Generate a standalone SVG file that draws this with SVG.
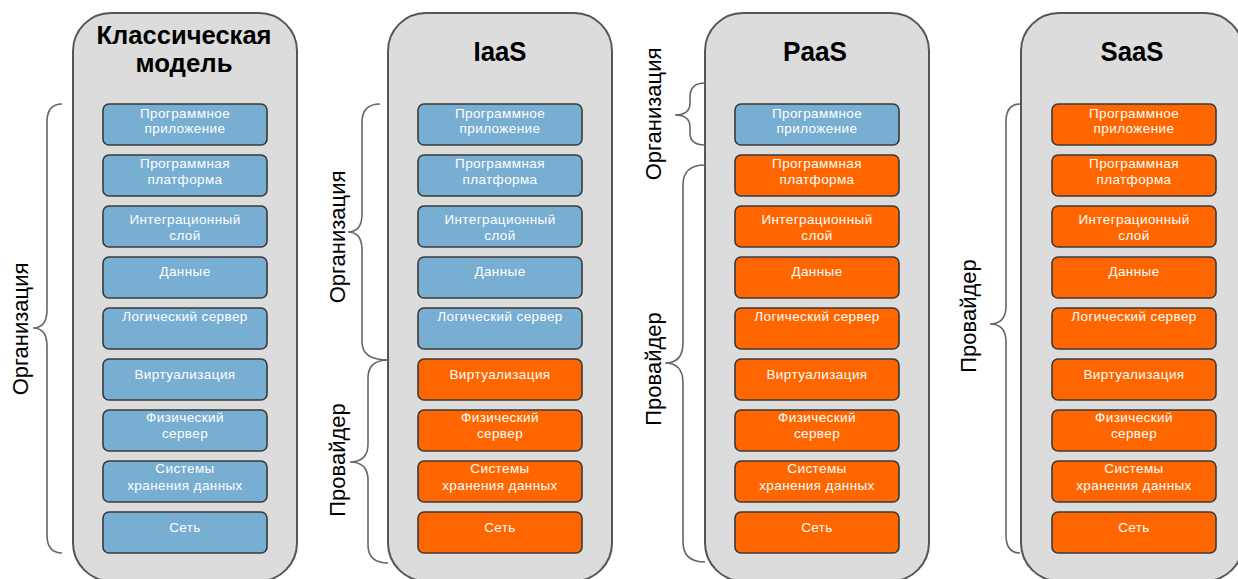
<svg xmlns="http://www.w3.org/2000/svg" width="1238" height="579" viewBox="0 0 1238 579">
<style>
.cont{fill:#dcdcdc;stroke:#555;stroke-width:2}
.blue{fill:#78aed2;stroke:#3a3a3a;stroke-width:1.6}
.orange{fill:#ff6600;stroke:#3a3a3a;stroke-width:1.6}
.bt{font-family:"Liberation Sans",Arial,sans-serif;font-size:13.5px;fill:#fff;text-anchor:middle;letter-spacing:0.4px}
.title{font-family:"Liberation Sans",Arial,sans-serif;font-size:28px;font-weight:bold;fill:#000;text-anchor:middle}
.title2{font-family:"Liberation Sans",Arial,sans-serif;font-size:25px;font-weight:bold;fill:#000;text-anchor:middle}
.lbl{font-family:"Liberation Sans",Arial,sans-serif;font-size:22px;fill:#000;text-anchor:middle}
.brace{fill:none;stroke:#666;stroke-width:1.6}
</style>
<rect width="1238" height="579" fill="#fff"/>

<!-- Column 1: Classic model -->
<g id="col-classic">
<rect class="cont" x="73" y="13" width="224" height="568" rx="38"/>
<text class="title2" x="184" y="44" textLength="175" lengthAdjust="spacingAndGlyphs">Классическая</text>
<text class="title2" x="184" y="72" textLength="97" lengthAdjust="spacingAndGlyphs">модель</text>
<g id="c1-b1"><rect class="blue" x="103" y="104" width="164" height="41" rx="6"/><text class="bt" x="185" y="118">Программное</text><text class="bt" x="185" y="133">приложение</text></g>
<g id="c1-b2"><rect class="blue" x="103" y="155" width="164" height="41" rx="6"/><text class="bt" x="185" y="168">Программная</text><text class="bt" x="185" y="184">платформа</text></g>
<g id="c1-b3"><rect class="blue" x="103" y="206" width="164" height="41" rx="6"/><text class="bt" x="185" y="224">Интеграционный</text><text class="bt" x="185" y="240">слой</text></g>
<g id="c1-b4"><rect class="blue" x="103" y="257" width="164" height="41" rx="6"/><text class="bt" x="185" y="276">Данные</text></g>
<g id="c1-b5"><rect class="blue" x="103" y="308" width="164" height="41" rx="6"/><text class="bt" x="185" y="321">Логический сервер</text></g>
<g id="c1-b6"><rect class="blue" x="103" y="359" width="164" height="41" rx="6"/><text class="bt" x="185" y="379">Виртуализация</text></g>
<g id="c1-b7"><rect class="blue" x="103" y="410" width="164" height="41" rx="6"/><text class="bt" x="185" y="422">Физический</text><text class="bt" x="185" y="438">сервер</text></g>
<g id="c1-b8"><rect class="blue" x="103" y="461" width="164" height="41" rx="6"/><text class="bt" x="185" y="473">Системы</text><text class="bt" x="185" y="490">хранения данных</text></g>
<g id="c1-b9"><rect class="blue" x="103" y="512" width="164" height="41" rx="6"/><text class="bt" x="185" y="532">Сеть</text></g>
</g>

<!-- Column 2: IaaS -->
<g id="col-iaas">
<rect class="cont" x="388" y="13" width="224" height="568" rx="38"/>
<text class="title" x="500" y="61" textLength="53" lengthAdjust="spacingAndGlyphs">IaaS</text>
<g id="c2-b1"><rect class="blue" x="418" y="104" width="164" height="41" rx="6"/><text class="bt" x="500" y="118">Программное</text><text class="bt" x="500" y="133">приложение</text></g>
<g id="c2-b2"><rect class="blue" x="418" y="155" width="164" height="41" rx="6"/><text class="bt" x="500" y="168">Программная</text><text class="bt" x="500" y="184">платформа</text></g>
<g id="c2-b3"><rect class="blue" x="418" y="206" width="164" height="41" rx="6"/><text class="bt" x="500" y="224">Интеграционный</text><text class="bt" x="500" y="240">слой</text></g>
<g id="c2-b4"><rect class="blue" x="418" y="257" width="164" height="41" rx="6"/><text class="bt" x="500" y="276">Данные</text></g>
<g id="c2-b5"><rect class="blue" x="418" y="308" width="164" height="41" rx="6"/><text class="bt" x="500" y="321">Логический сервер</text></g>
<g id="c2-b6"><rect class="orange" x="418" y="359" width="164" height="41" rx="6"/><text class="bt" x="500" y="379">Виртуализация</text></g>
<g id="c2-b7"><rect class="orange" x="418" y="410" width="164" height="41" rx="6"/><text class="bt" x="500" y="422">Физический</text><text class="bt" x="500" y="438">сервер</text></g>
<g id="c2-b8"><rect class="orange" x="418" y="461" width="164" height="41" rx="6"/><text class="bt" x="500" y="473">Системы</text><text class="bt" x="500" y="490">хранения данных</text></g>
<g id="c2-b9"><rect class="orange" x="418" y="512" width="164" height="41" rx="6"/><text class="bt" x="500" y="532">Сеть</text></g>
</g>

<!-- Column 3: PaaS -->
<g id="col-paas">
<rect class="cont" x="705" y="13" width="224" height="568" rx="38"/>
<text class="title" x="815" y="61" textLength="64" lengthAdjust="spacingAndGlyphs">PaaS</text>
<g id="c3-b1"><rect class="blue" x="735" y="104" width="164" height="41" rx="6"/><text class="bt" x="817" y="118">Программное</text><text class="bt" x="817" y="133">приложение</text></g>
<g id="c3-b2"><rect class="orange" x="735" y="155" width="164" height="41" rx="6"/><text class="bt" x="817" y="168">Программная</text><text class="bt" x="817" y="184">платформа</text></g>
<g id="c3-b3"><rect class="orange" x="735" y="206" width="164" height="41" rx="6"/><text class="bt" x="817" y="224">Интеграционный</text><text class="bt" x="817" y="240">слой</text></g>
<g id="c3-b4"><rect class="orange" x="735" y="257" width="164" height="41" rx="6"/><text class="bt" x="817" y="276">Данные</text></g>
<g id="c3-b5"><rect class="orange" x="735" y="308" width="164" height="41" rx="6"/><text class="bt" x="817" y="321">Логический сервер</text></g>
<g id="c3-b6"><rect class="orange" x="735" y="359" width="164" height="41" rx="6"/><text class="bt" x="817" y="379">Виртуализация</text></g>
<g id="c3-b7"><rect class="orange" x="735" y="410" width="164" height="41" rx="6"/><text class="bt" x="817" y="422">Физический</text><text class="bt" x="817" y="438">сервер</text></g>
<g id="c3-b8"><rect class="orange" x="735" y="461" width="164" height="41" rx="6"/><text class="bt" x="817" y="473">Системы</text><text class="bt" x="817" y="490">хранения данных</text></g>
<g id="c3-b9"><rect class="orange" x="735" y="512" width="164" height="41" rx="6"/><text class="bt" x="817" y="532">Сеть</text></g>
</g>

<!-- Column 4: SaaS -->
<g id="col-saas">
<rect class="cont" x="1021" y="13" width="222" height="568" rx="38"/>
<text class="title" x="1132" y="61" textLength="63" lengthAdjust="spacingAndGlyphs">SaaS</text>
<g id="c4-b1"><rect class="orange" x="1052" y="104" width="164" height="41" rx="6"/><text class="bt" x="1134" y="118">Программное</text><text class="bt" x="1134" y="133">приложение</text></g>
<g id="c4-b2"><rect class="orange" x="1052" y="155" width="164" height="41" rx="6"/><text class="bt" x="1134" y="168">Программная</text><text class="bt" x="1134" y="184">платформа</text></g>
<g id="c4-b3"><rect class="orange" x="1052" y="206" width="164" height="41" rx="6"/><text class="bt" x="1134" y="224">Интеграционный</text><text class="bt" x="1134" y="240">слой</text></g>
<g id="c4-b4"><rect class="orange" x="1052" y="257" width="164" height="41" rx="6"/><text class="bt" x="1134" y="276">Данные</text></g>
<g id="c4-b5"><rect class="orange" x="1052" y="308" width="164" height="41" rx="6"/><text class="bt" x="1134" y="321">Логический сервер</text></g>
<g id="c4-b6"><rect class="orange" x="1052" y="359" width="164" height="41" rx="6"/><text class="bt" x="1134" y="379">Виртуализация</text></g>
<g id="c4-b7"><rect class="orange" x="1052" y="410" width="164" height="41" rx="6"/><text class="bt" x="1134" y="422">Физический</text><text class="bt" x="1134" y="438">сервер</text></g>
<g id="c4-b8"><rect class="orange" x="1052" y="461" width="164" height="41" rx="6"/><text class="bt" x="1134" y="473">Системы</text><text class="bt" x="1134" y="490">хранения данных</text></g>
<g id="c4-b9"><rect class="orange" x="1052" y="512" width="164" height="41" rx="6"/><text class="bt" x="1134" y="532">Сеть</text></g>
</g>

<!-- Braces -->
<g id="connectors">
<path class="brace" d="M62,104 Q47,104 47,122 L47,310 Q47,328 33,328 Q47,328 47,346 L47,535 Q47,553 62,553"/>
<path class="brace" d="M380,104 Q362,104 362,122 L362,214 Q362,232 348,232 Q362,232 362,250 L362,342 Q362,360 388,360"/>
<path class="brace" d="M388,360 Q368,360 368,378 L368,444 Q368,462 350,462 Q368,462 368,480 L368,545 Q368,563 388,563"/>
<path class="brace" d="M705,83 Q690,83 690,97 L690,103 Q690,115 675,115 Q690,115 690,127 L690,133 Q690,145 705,145"/>
<path class="brace" d="M705,165 Q683,165 683,185 L683,343 Q683,363 665,363 Q683,363 683,383 L683,542 Q683,562 705,562"/>
<path class="brace" d="M1020,104 Q1006,104 1006,122 L1006,306 Q1006,324 990,324 Q1006,324 1006,342 L1006,535 Q1006,553 1020,553"/>
</g>

<!-- Brace labels -->
<g id="labels">
<text class="lbl" transform="translate(28,329) rotate(-90)">Организация</text>
<text class="lbl" transform="translate(345,237) rotate(-90)">Организация</text>
<text class="lbl" transform="translate(345,460) rotate(-90)">Провайдер</text>
<text class="lbl" transform="translate(661,114) rotate(-90)">Организация</text>
<text class="lbl" transform="translate(661,369) rotate(-90)">Провайдер</text>
<text class="lbl" transform="translate(976,316) rotate(-90)">Провайдер</text>
</g>
</svg>
